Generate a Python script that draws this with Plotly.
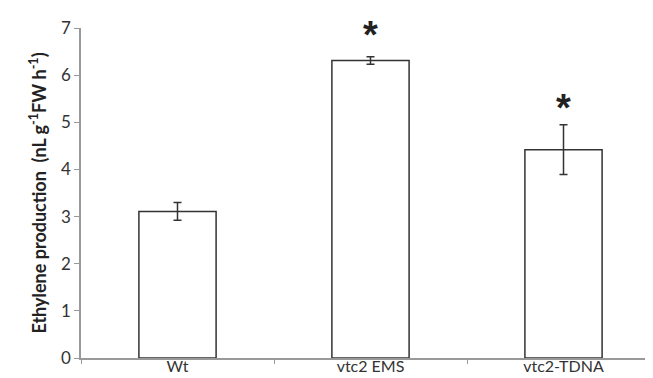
import plotly.graph_objects as go

categories = ["Wt", "vtc2 EMS", "vtc2-TDNA"]
values = [3.11, 6.31, 4.42]
errors = [0.19, 0.08, 0.53]
stars = ["", "*", "*"]
star_y = [None, 6.85, 5.3]

fig = go.Figure()
fig.add_trace(go.Bar(
    x=categories, y=values,
    marker=dict(color="white", line=dict(color="#333333", width=1.5)),
    error_y=dict(type="data", array=errors, color="#333333", thickness=1.5, width=4),
    width=0.4,
))

for c, s, yy in zip(categories, stars, star_y):
    if s:
        fig.add_annotation(x=c, y=yy, text="<b>*</b>", showarrow=False,
                           font=dict(size=38, color="#222222", family="Liberation Sans"),
                           yanchor="middle")

fig.update_layout(
    width=653, height=378,
    margin=dict(l=73, r=1, t=20, b=28),
    plot_bgcolor="white", paper_bgcolor="white",
    showlegend=False,
    font=dict(family="Lato, Open Sans, sans-serif", size=16, color="#333333"),
    xaxis=dict(
        showline=True, linecolor="#999999", linewidth=1.5,
        ticks="outside", tickson="boundaries", ticklen=4, tickcolor="#999999",
        tickfont=dict(size=16, color="#333333"),
        ticklabelstandoff=-7,
    ),
    yaxis=dict(
        range=[0, 7], dtick=1, showgrid=False, zeroline=False,
        showline=True, linecolor="#999999", linewidth=1.5,
        ticks="outside", ticklen=5, tickcolor="#999999",
        tickfont=dict(size=17, color="#333333"),
        title=dict(text="<b>Ethylene production  (nL g<sup>-1</sup>FW h<sup>-1</sup>)</b>",
                   font=dict(size=18, color="#222222"), standoff=10),
    ),
)

fig.write_html("out.html")
